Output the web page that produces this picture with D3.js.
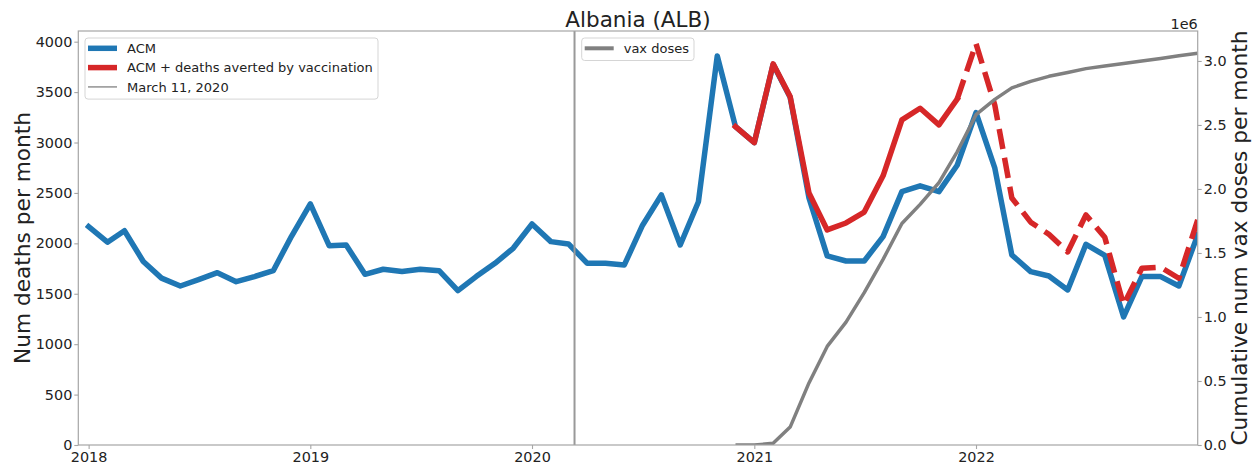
<!DOCTYPE html>
<html lang="en">

<head>
    <meta charset="UTF-8">
    <title>Albania (ALB)</title>
    <script src="https://cdn.jsdelivr.net/npm/d3@7"></script>
    <style>
        * {
            margin: 0;
            padding: 0;
        }

        body {
            background: #fff;
        }

        text {
            font-family: "DejaVu Sans", sans-serif;
            fill: #222;
        }
    </style>
</head>

<body>
    <script>
        // monthly points, first of each month
        const months = d3.timeMonth.range(new Date(2018, 0, 1), new Date(2023, 0, 2));

        // all-cause mortality per month
        const acm = [
            2165, 2011, 2125, 1820, 1655, 1577, 1640, 1709, 1620, 1670, 1729, 2070,
            2391, 1977, 1984, 1693, 1743, 1720, 1743, 1729, 1531, 1670, 1802, 1951,
            2192, 2017, 1994, 1802, 1802, 1786, 2180, 2480, 1984, 2413, 3859, 3158,
            2999, 3775, 3450, 2450, 1875, 1825, 1825, 2067, 2513, 2570, 2513, 2775,
            3297, 2745, 1885, 1719, 1676, 1538, 1990, 1880, 1270, 1670, 1670, 1577,
            2083
        ];

        // ACM + deaths averted by vaccination, from Dec 2020
        const avertedStart = new Date(2020, 11, 1);
        const dashedFrom = new Date(2021, 11, 1);
        const acmAverted = [
            3158,
            2999, 3780, 3455, 2500, 2133, 2202, 2310, 2670, 3224, 3340, 3175, 3430,
            3980, 3370, 2450, 2210, 2090, 1915, 2282, 2060, 1390, 1753, 1763, 1654,
            2232
        ];

        // cumulative vaccine doses, from Dec 2020
        const vaxStart = new Date(2020, 11, 1);
        const vaxDoses = [
            0,
            0, 13000, 140000, 485000, 770000, 960000, 1190000, 1450000, 1730000, 1880000, 2050000, 2290000,
            2580000, 2700000, 2790000, 2840000, 2880000, 2910000, 2940000, 2960000, 2980000, 3000000, 3020000, 3040000,
            3060000
        ];

        const pandemicDate = new Date(2020, 2, 11);
        const yearTicks = [2018, 2019, 2020, 2021, 2022];
        const deathTicks = [0, 500, 1000, 1500, 2000, 2500, 3000, 3500, 4000];
        const vaxTicks = [0, 500000, 1000000, 1500000, 2000000, 2500000, 3000000];

        const width = 1258;
        const height = 470;
        const plotLeft = 78.3, plotRight = 1197.7, plotTop = 31, plotBottom = 445;
        const spineColor = "#a6a6a6";

        const svg = d3.select("body").append("svg").attr("width", width).attr("height", height);

        const x = d3.scaleTime()
            .domain([new Date(2017, 11, 15), new Date(2023, 0, 1)])
            .range([plotLeft, plotRight]);
        const y = d3.scaleLinear().domain([0, 4106]).range([plotBottom, plotTop]);
        const y2 = d3.scaleLinear().domain([0, 3234000]).range([plotBottom, plotTop]);

        svg.append("clipPath").attr("id", "plot")
            .append("rect")
            .attr("x", plotLeft).attr("y", plotTop)
            .attr("width", plotRight - plotLeft).attr("height", plotBottom - plotTop);

        const toPoints = (start, values) => values.map((v, i) => ({ date: d3.timeMonth.offset(start, i), value: v }));
        const acmPoints = toPoints(months[0], acm);
        const avertedPoints = toPoints(avertedStart, acmAverted);
        const vaxPoints = toPoints(vaxStart, vaxDoses);

        const line = d3.line().x(d => x(d.date)).y(d => y(d.value));
        const line2 = d3.line().x(d => x(d.date)).y(d => y2(d.value));

        const plot = svg.append("g").attr("clip-path", "url(#plot)");

        plot.append("path")
            .datum(acmPoints)
            .attr("d", line)
            .attr("fill", "none")
            .attr("stroke", "#1f77b4")
            .attr("stroke-width", 5.5)
            .attr("stroke-linejoin", "round")
            .attr("stroke-linecap", "square");

        plot.append("path")
            .datum(avertedPoints.filter(d => d.date <= dashedFrom))
            .attr("d", line)
            .attr("fill", "none")
            .attr("stroke", "#d62728")
            .attr("stroke-width", 5.5)
            .attr("stroke-linejoin", "round")
            .attr("stroke-linecap", "square");

        plot.append("path")
            .datum(avertedPoints.filter(d => d.date >= dashedFrom))
            .attr("d", line)
            .attr("fill", "none")
            .attr("stroke", "#d62728")
            .attr("stroke-width", 5.5)
            .attr("stroke-dasharray", "20.5,8.9")
            .attr("stroke-linejoin", "round");

        plot.append("line")
            .attr("x1", x(pandemicDate)).attr("x2", x(pandemicDate))
            .attr("y1", plotTop).attr("y2", plotBottom)
            .attr("stroke", "#999")
            .attr("stroke-width", 2);

        // legend of the left axis
        const legend1 = [
            { label: "ACM", color: "#1f77b4", width: 5.5 },
            { label: "ACM + deaths averted by vaccination", color: "#d62728", width: 5.5 },
            { label: "March 11, 2020", color: "#999", width: 1.6 }
        ];

        const drawLegend = (selection, items, x0, y0, w) => {
            const step = 19.3;
            selection.append("rect")
                .attr("x", x0).attr("y", y0)
                .attr("width", w).attr("height", items.length * step + 3.2)
                .attr("rx", 3)
                .attr("fill", "#fff").attr("fill-opacity", 0.8)
                .attr("stroke", "#d5d5d5");
            const rows = selection.selectAll("g.item")
                .data(items)
                .join("g")
                .attr("class", "item")
                .attr("transform", (d, i) => `translate(${x0},${y0 + 10.3 + i * step})`);
            rows.append("line")
                .attr("x1", 3).attr("x2", 32)
                .attr("stroke", d => d.color)
                .attr("stroke-width", d => d.width);
            rows.append("text")
                .attr("x", 42)
                .attr("dy", "0.36em")
                .style("font-size", "13px")
                .text(d => d.label);
        };

        svg.append("g").call(drawLegend, legend1, 85, 38, 293);

        // twin axis: vaccine doses
        svg.append("g").attr("clip-path", "url(#plot)")
            .append("path")
            .datum(vaxPoints)
            .attr("d", line2)
            .attr("fill", "none")
            .attr("stroke", "#808080")
            .attr("stroke-width", 3.5)
            .attr("stroke-linejoin", "round");

        svg.append("g").call(drawLegend, [{ label: "vax doses", color: "#808080", width: 4 }], 581.7, 38, 112.3);

        // spines
        svg.append("rect")
            .attr("x", plotLeft).attr("y", plotTop)
            .attr("width", plotRight - plotLeft).attr("height", plotBottom - plotTop)
            .attr("fill", "none")
            .attr("stroke", spineColor)
            .attr("stroke-width", 1.2);

        const styleAxis = g => {
            g.select(".domain").remove();
            g.selectAll(".tick line").attr("stroke", spineColor).attr("stroke-width", 1.1);
            g.selectAll(".tick text").style("font-size", "14.4px").attr("fill", "#222").style("font-family", "DejaVu Sans");
        };

        svg.append("g")
            .attr("transform", `translate(0,${plotBottom})`)
            .call(d3.axisBottom(x)
                .tickValues(yearTicks.map(yr => new Date(yr, 0, 1)))
                .tickFormat(d3.timeFormat("%Y"))
                .tickSize(4).tickPadding(2.5))
            .call(styleAxis);

        svg.append("g")
            .attr("transform", `translate(${plotLeft},0)`)
            .call(d3.axisLeft(y).tickValues(deathTicks).tickFormat(d3.format("d")).tickSize(4).tickPadding(2))
            .call(styleAxis);

        svg.append("g")
            .attr("transform", `translate(${plotRight},0)`)
            .call(d3.axisRight(y2).tickValues(vaxTicks).tickFormat(d => (d / 1e6).toFixed(1)).tickSize(4).tickPadding(2))
            .call(styleAxis);

        svg.append("text")
            .attr("x", plotRight).attr("y", 29)
            .attr("text-anchor", "end")
            .style("font-size", "14.4px")
            .text("1e6");

        svg.append("text")
            .attr("x", (plotLeft + plotRight) / 2).attr("y", 26.5)
            .attr("text-anchor", "middle")
            .style("font-size", "21.5px")
            .text("Albania (ALB)");

        svg.append("text")
            .attr("transform", `translate(30,${(plotTop + plotBottom) / 2}) rotate(-90)`)
            .attr("text-anchor", "middle")
            .style("font-size", "21.7px")
            .text("Num deaths per month");

        svg.append("text")
            .attr("transform", `translate(1246.7,${(plotTop + plotBottom) / 2}) rotate(-90)`)
            .attr("text-anchor", "middle")
            .style("font-size", "21.7px")
            .text("Cumulative num vax doses per month");
    </script>
</body>

</html>
